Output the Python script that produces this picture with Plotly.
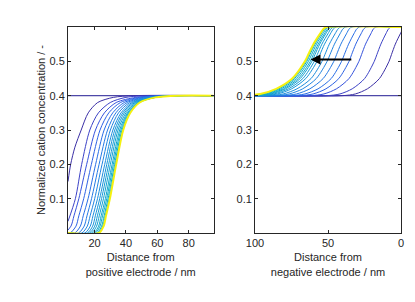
import plotly.graph_objects as go

# ---------------- data ----------------
# Left panel: distance from positive electrode (nm) at which each curve
# reaches the given normalized cation concentration levels
left_levels = [0, 0.02, 0.05, 0.1, 0.2, 0.3, 0.35, 0.38, 0.395, 0.4]
left_first_x = [3.1, 4.8, 7.5, 11.5, 16, 22, 32, 45]
left_first_y = [0.15, 0.2, 0.25, 0.3, 0.35, 0.38, 0.395, 0.4]
left_second_x = [3.1, 7.8, 11.8, 17, 22.5, 30, 40, 55]
left_second_y = [0.034, 0.1, 0.2, 0.3, 0.35, 0.38, 0.395, 0.4]
left_curves_x = [
    [1.3, 5.0, 6.9, 10.0, 15.0, 20.6, 26.3, 33.8, 46.3, 65.0],
    [4.5, 8.2, 10.0, 13.1, 18.0, 23.5, 29.1, 36.5, 48.8, 67.2],
    [7.4, 11.0, 12.8, 15.9, 20.7, 26.1, 31.6, 38.9, 51.0, 69.1],
    [9.8, 13.4, 15.2, 18.1, 22.9, 28.3, 33.6, 40.8, 52.7, 70.5],
    [11.9, 15.4, 17.2, 20.1, 24.8, 30.1, 35.3, 42.4, 54.1, 71.6],
    [13.8, 17.3, 19.0, 21.9, 26.5, 31.7, 36.9, 43.8, 55.3, 72.5],
    [15.4, 18.8, 20.5, 23.3, 27.8, 32.9, 38.0, 44.8, 56.1, 73.0],
    [16.7, 20.1, 21.8, 24.5, 29.0, 34.0, 39.0, 45.7, 56.9, 73.6],
    [18.0, 21.3, 23.0, 25.7, 30.1, 35.0, 40.0, 46.5, 57.5, 73.9],
    [19.4, 22.6, 24.2, 26.9, 31.2, 36.0, 40.9, 47.4, 58.1, 74.3],
    [20.4, 23.5, 25.1, 27.8, 32.0, 36.8, 41.5, 47.9, 58.4, 74.3],
    [21.4, 24.5, 26.1, 28.6, 32.8, 37.5, 42.1, 48.4, 58.8, 74.3],
    [22.2, 25.2, 26.8, 29.3, 33.4, 38.0, 42.6, 48.7, 58.9, 74.2],
    [22.8, 25.8, 27.3, 29.8, 33.8, 38.3, 42.8, 48.8, 58.8, 73.8],
]
left_x_range = [3.1, 95.8]

# Right panel: distance from negative electrode (nm) at given levels
right_levels = [0.6, 0.595, 0.58, 0.55, 0.52, 0.5, 0.45, 0.42, 0.405, 0.4]
right_curves_x = [
    [-2.95, -1.4, 0.5, 3.9, 6.5, 8.2, 14.75, 23.0, 31.25, 40.25],
    [6.8, 8.45, 10.4, 13.8, 16.5, 18.3, 24.9, 33.4, 41.8, 51.0],
    [17.1, 18.8, 20.7, 24.3, 27.0, 28.8, 35.6, 44.2, 52.8, 62.2],
    [23.7, 25.4, 27.4, 31.0, 33.8, 35.6, 42.6, 51.4, 60.2, 69.8],
    [28.5, 30.2, 32.3, 35.9, 38.8, 40.7, 47.8, 56.8, 65.8, 75.6],
    [33.6, 35.4, 37.4, 41.2, 44.1, 46.0, 53.3, 62.4, 71.6, 81.6],
    [37.9, 39.7, 41.8, 45.6, 48.6, 50.6, 58.0, 67.3, 76.6, 86.9],
    [41.2, 43.0, 45.2, 49.1, 52.1, 54.1, 61.6, 71.2, 80.7, 91.1],
    [44.4, 46.2, 48.4, 52.4, 55.5, 57.5, 65.2, 74.9, 84.6, 95.2],
    [46.0, 47.9, 50.1, 54.2, 57.3, 59.4, 67.2, 77.1, 87.0, 97.8],
    [47.3, 49.3, 51.6, 55.7, 58.9, 61.0, 69.0, 79.1, 89.2, 100.2],
    [48.2, 50.2, 52.5, 56.7, 60.0, 62.1, 70.3, 80.5, 90.8, 102.0],
    [49.2, 51.2, 53.6, 57.9, 61.2, 63.4, 71.65, 82.1, 92.6, 103.95],
    [50.1, 52.1, 54.6, 58.9, 62.3, 64.5, 72.9, 83.6, 94.2, 105.8],
    [50.6, 52.7, 55.1, 59.6, 63.0, 65.3, 73.8, 84.6, 95.4, 107.2],
    [50.9, 53.0, 55.5, 60.0, 63.5, 65.8, 74.5, 85.5, 96.5, 108.5],
]

flat_level = 0.4
curve_colors = [
    "#3B2FA5", "#3C42C6", "#3552DC", "#2D62E4", "#286EE6", "#2479E4",
    "#2084E0", "#1C8DDC", "#1994D8", "#169BD4", "#13A1D0", "#10A6CC",
    "#0EABC8", "#0DAFC4", "#10B3C0", "#F5F10F",
]
flat_color = "#4E48A8"

y_ticks = [0.1, 0.2, 0.3, 0.4, 0.5]
left_x_ticks = [20, 40, 60, 80]
right_x_ticks = [100, 50, 0]
arrow_from = (33, 0.505)
arrow_to = (62, 0.505)

# ---------------- figure ----------------
FONT = "Liberation Sans, Arial, Helvetica, sans-serif"
TXT = "#262626"
fig = go.Figure()


def add_line(x, y, color, xa, ya, width=1.0):
    fig.add_trace(go.Scatter(
        x=x, y=y, mode="lines", xaxis=xa, yaxis=ya,
        line=dict(color=color, width=width, shape="spline", smoothing=0.8),
        showlegend=False, hoverinfo="skip"))


# left panel
add_line([left_x_range[0], left_x_range[1]], [flat_level, flat_level], flat_color, "x", "y", 1.2)
left_all_x = [left_first_x, left_second_x] + left_curves_x
left_all_y = [left_first_y, left_second_y] + [left_levels] * len(left_curves_x)
for i, (xs, ys) in enumerate(zip(left_all_x, left_all_y)):
    xs = list(xs)
    ys = list(ys)
    if xs[0] > left_x_range[0]:
        xs = [left_x_range[0]] + xs
        ys = [ys[0]] + ys
    if xs[-1] < left_x_range[1]:
        xs = xs + [left_x_range[1]]
        ys = ys + [flat_level]
    last = i == len(left_all_x) - 1
    add_line(xs, ys, curve_colors[i], "x", "y", 2.0 if last else 1.0)

# right panel
add_line([0, 100], [flat_level, flat_level], flat_color, "x2", "y2", 1.2)
for i, xs in enumerate(right_curves_x):
    xs = list(xs)
    ys = list(right_levels)
    if xs[0] > 0:
        xs = [0] + xs
        ys = [ys[0]] + ys
    if xs[-1] < 100:
        xs = xs + [100]
        ys = ys + [flat_level]
    last = i == len(right_curves_x) - 1
    add_line(xs, ys, curve_colors[i], "x2", "y2", 2.0 if last else 1.0)

axis_common = dict(
    showline=True, linecolor=TXT, linewidth=1, mirror="ticks",
    ticks="inside", ticklen=3, tickwidth=1, tickcolor=TXT,
    showgrid=False, zeroline=False,
    tickfont=dict(family=FONT, size=11, color=TXT),
)

# the page body adds an 8px offset, so the figure is sized to fit the window
fig.update_layout(
    width=407, height=294,
    margin=dict(l=60, r=14, t=19, b=69, autoexpand=False),
    paper_bgcolor="white", plot_bgcolor="white",
    font=dict(family=FONT, size=11, color=TXT),
    xaxis=dict(domain=[0, 0.437], range=left_x_range, tickvals=left_x_ticks,
               title=dict(text="Distance from<br>positive electrode / nm",
                          font=dict(family=FONT, size=11, color=TXT), standoff=5),
               anchor="y", **axis_common),
    yaxis=dict(domain=[0, 1], range=[0, 0.6], tickvals=y_ticks,
               ticktext=[f"{v:.1f}" for v in y_ticks],
               title=dict(text="Normalized cation concentration / -",
                          font=dict(family=FONT, size=11, color=TXT), standoff=1),
               anchor="x", **axis_common),
    xaxis2=dict(domain=[0.5616, 1.0], range=[100, 0], tickvals=right_x_ticks,
                title=dict(text="Distance from<br>negative electrode / nm",
                           font=dict(family=FONT, size=11, color=TXT), standoff=5),
                anchor="y2", **axis_common),
    yaxis2=dict(domain=[0, 1], range=[0, 0.6], tickvals=y_ticks,
                ticktext=[f"{v:.1f}" for v in y_ticks],
                anchor="x2", **axis_common),
)

fig.add_annotation(
    x=arrow_to[0], y=arrow_to[1], ax=arrow_from[0], ay=arrow_from[1],
    xref="x2", yref="y2", axref="x2", ayref="y2",
    showarrow=True, arrowhead=2, arrowsize=1, arrowwidth=2, arrowcolor="black",
    text="",
)

fig.write_html("out.html")
